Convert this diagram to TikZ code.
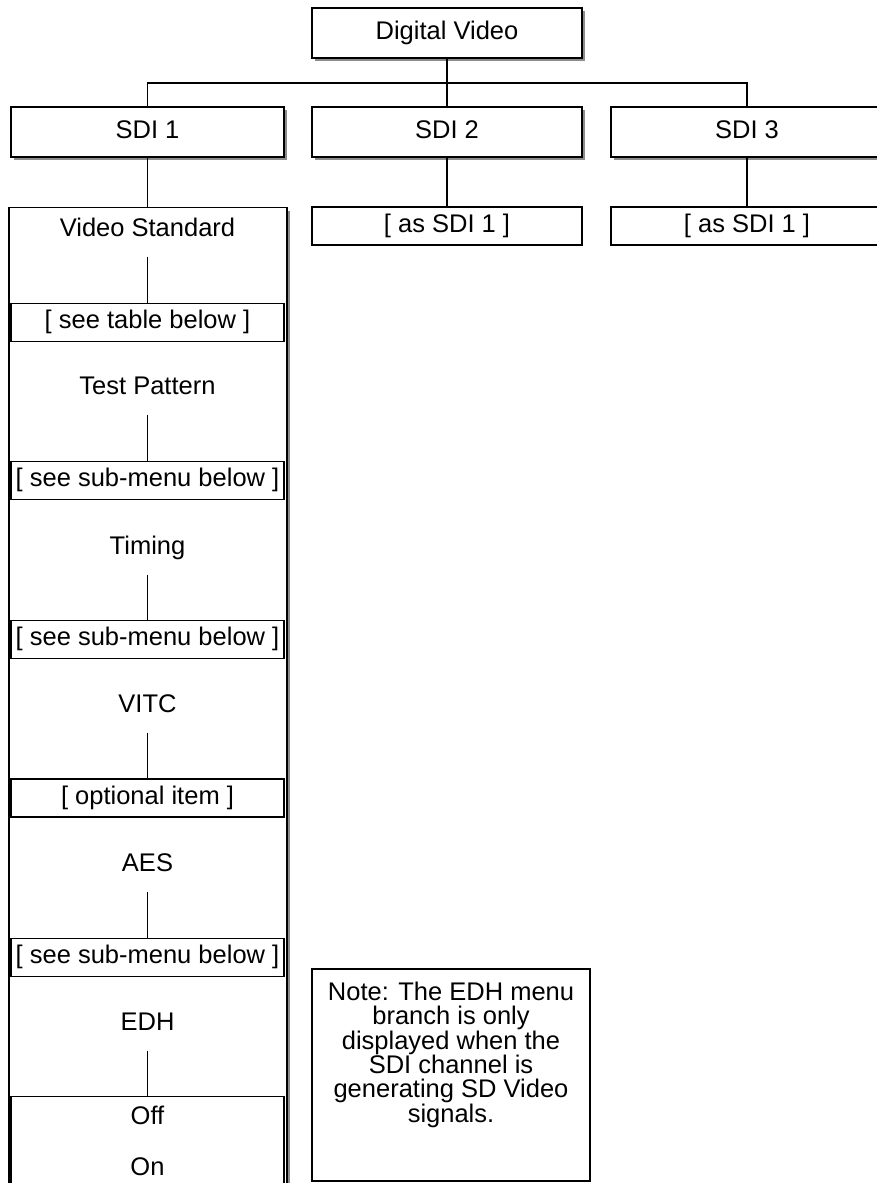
\documentclass[tikz,border=0pt]{standalone}
\usepackage{fontspec}
\setmainfont{Liberation Sans}
\usetikzlibrary{shadows}

\begin{document}
\begin{tikzpicture}[x=1pt, y=-1pt, line width=1.3pt,
  base/.style={font=\fontsize{25.5}{23.5}\selectfont, inner sep=0pt,
    text height=18pt, text depth=6pt},
  shadowbox/.style={draw, fill=white, drop shadow={shadow xshift=3pt,
    shadow yshift=-3pt, fill=black!45, opacity=1}},
  menubox/.style={base, shadowbox, minimum width=272pt, minimum height=50pt},
  itembox/.style={base, draw, fill=white, minimum width=273pt, minimum height=38pt},
  entry/.style={base, text depth=0pt, minimum height=58pt}]
  \useasboundingbox (0,0) rectangle (877,1183);
  \clip (0,0) rectangle (877,1183);

  % top level
  \node[menubox, minimum width=270pt] (dv) at (447,33) {Digital Video};
  \node[menubox, minimum width=273pt] (sdi1) at (147.5,132) {SDI 1};
  \node[menubox, minimum width=270pt] (sdi2) at (447,132) {SDI 2};
  \node[menubox] (sdi3) at (747,132) {SDI 3};
  \coordinate (bar) at (447,83);
  \draw (dv) -- (sdi2);
  \draw (sdi1) -- (sdi1 |- bar) -- (sdi3 |- bar) -- (sdi3);

  % SDI 2 and SDI 3
  \node[itembox, minimum width=270pt] (as2) at (447,226) {[ as SDI 1 ]};
  \node[itembox, minimum width=272pt] (as3) at (747,226) {[ as SDI 1 ]};
  \draw (sdi2) -- (as2);
  \draw (sdi3) -- (as3);

  % SDI 1 column
  \node[shadowbox, minimum width=278pt, minimum height=1000pt, anchor=north]
    (sdicol) at (148,207) {};
  \draw (sdi1.south) -- (sdi1.south |- sdicol.north);

  \node[entry] (vs) at (147.5,227) {Video Standard};
  \node[itembox] (tbl) at (147.5,322.5) {[ see table below ]};
  \node[entry] (tp) at (147.5,385) {Test Pattern};
  \node[itembox] (sub1) at (147.5,480.5) {[ see sub-menu below ]};
  \node[entry] (tim) at (147.5,545) {Timing};
  \node[itembox] (sub2) at (147.5,639.5) {[ see sub-menu below ]};
  \node[entry] (vitc) at (147.5,703) {VITC};
  \node[itembox] (opt) at (147.5,798) {[ optional item ]};
  \node[entry] (aes) at (147.5,862) {AES};
  \node[itembox] (sub3) at (147.5,957.5) {[ see sub-menu below ]};
  \node[entry] (edh) at (147.5,1021) {EDH};
  \node[itembox, minimum height=120pt, anchor=north] (edhbox) at (147.5,1096) {};
  \node[base] (off) at (147.5,1118) {Off};
  \node[base] (on) at (147.5,1169) {On};

  \foreach \a/\b in {vs/tbl, tp/sub1, tim/sub2, vitc/opt, aes/sub3, edh/edhbox}
    \draw (\a) -- (\b);

  % note
  \node[draw, minimum width=278pt, minimum height=212pt] (note) at (451,1075) {};
  \node[font=\fontsize{25.5}{23.5}\selectfont, align=center, inner sep=0pt]
    (notetxt) at (451,1055) {Note: The EDH menu\\ branch is only\\ displayed when the\\
    SDI channel is\\ generating SD Video\\ signals.};
\end{tikzpicture}
\end{document}
